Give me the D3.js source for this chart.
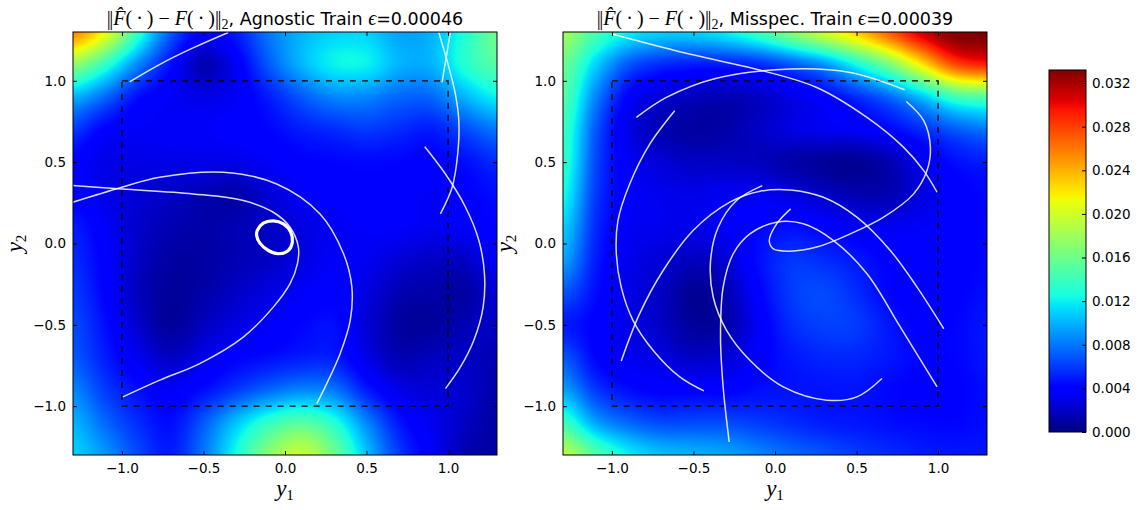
<!DOCTYPE html>
<html>
<head>
<meta charset="utf-8">
<script src="https://cdn.jsdelivr.net/npm/d3@7"></script>
<style>
  html, body { margin: 0; padding: 0; background: #fff; }
  svg { display: block; }
</style>
</head>
<body>
<svg id="fig" width="1139" height="510"></svg>
<script>
// ---- data -------------------------------------------------------------
// grid node coordinates (same for y1 and y2)
const gridCoords = [-1.3, -1.1, -0.9, -0.7, -0.5, -0.3, -0.1, 0.1, 0.3, 0.5, 0.7, 0.9, 1.1, 1.3];

// error norm in units of 1e-3; rows run from y2 = 1.3 (top) to y2 = -1.3 (bottom)
const agnosticErr = [
  [25.5, 21, 13.5, 7, 4, 5, 8, 10, 11, 11, 9.5, 10, 13, 16],
  [17.5, 13.5, 8.5, 4.5, 1.5, 3.5, 7, 10, 12, 12, 10, 10, 13, 15],
  [10, 7.5, 4.5, 3.5, 3, 3.5, 5, 7, 8.5, 8.5, 7.5, 7.5, 10, 12],
  [6, 4, 3.5, 3.5, 3.5, 3.8, 4.2, 5, 5.5, 6, 5.5, 5, 6.5, 8],
  [4, 3, 3, 3, 3, 3, 3.5, 4, 4.2, 4.3, 4.2, 4, 4.5, 5.5],
  [4, 3, 2.5, 2, 1.5, 1.2, 2.5, 3.5, 3.8, 4, 3.8, 3.5, 4, 4.5],
  [5, 3.5, 2.2, 1.5, 1.2, 1.5, 2, 2.8, 3.3, 3.6, 3.6, 3.3, 3.6, 4.2],
  [5.5, 3.8, 2, 1, 1, 1.5, 2, 2.8, 3.5, 3.3, 2.5, 2, 2, 3.5],
  [6, 4, 1.8, 0.8, 1.2, 2, 2.8, 3.5, 3.8, 2.8, 1.5, 1.2, 1, 2.5],
  [6.5, 4.5, 2.2, 0.8, 1.8, 2.8, 3.5, 4.2, 4.5, 2.5, 1, 0.8, 1.5, 2],
  [7, 5, 3.2, 2, 3, 4, 4.5, 5, 5, 3, 1.5, 1.8, 2, 1.5],
  [8.5, 6, 4.5, 3.5, 4.5, 6, 7.5, 8.5, 8, 5, 3, 2.5, 2.2, 1.2],
  [10, 7.5, 5.5, 4.5, 7, 10.5, 13.5, 15, 13, 8.5, 4.8, 3.2, 2, 1],
  [11, 9, 6.5, 5, 8, 12.5, 17, 19.5, 16, 10.5, 6, 3.5, 1.5, 1]
];

const misspecErr = [
  [18, 14.5, 12, 11, 11, 12, 14, 17, 20, 23, 27, 31, 33.5, 33.5],
  [16, 11, 7, 5.5, 5, 5, 5.5, 7, 9, 12.5, 16.5, 22, 27.5, 29],
  [15, 8.5, 4, 2.5, 1.8, 1.5, 2, 3, 4, 5.5, 7.5, 10.5, 14, 15],
  [14, 7, 3, 1.5, 1, 1.2, 2, 2.8, 3.2, 3.5, 4.2, 5.5, 7, 8],
  [13.5, 6.5, 3.5, 2.5, 2, 2, 1.8, 1.2, 0.8, 0.6, 1.5, 3.2, 4.5, 5],
  [12.5, 6, 3.8, 3.2, 3, 3.3, 3.3, 2.8, 2, 1.5, 1.5, 2.8, 3.8, 4.3],
  [11, 5.5, 3.5, 3.2, 3, 3.5, 4.2, 4.5, 4, 3.5, 3.3, 3.5, 3.8, 4.3],
  [9.5, 5, 3.2, 2.5, 1.8, 2.5, 4.5, 5.8, 5.5, 4.8, 4, 3.8, 3.8, 4.3],
  [7, 4.5, 3, 2, 0.6, 1.5, 4, 6, 6.5, 5.5, 4.2, 3.8, 4, 4.5],
  [5, 4, 3, 2, 0.8, 1.2, 3.5, 5.5, 6.2, 6, 4.8, 4, 4.2, 4.8],
  [7, 4.2, 3.3, 2.8, 2, 2.5, 3.8, 4.8, 5.3, 5.3, 4.8, 4.2, 4.2, 4.8],
  [9.5, 6, 4.5, 4, 4, 4, 4.5, 4.7, 4.7, 4.7, 4.3, 4, 4, 4.5],
  [14, 9.5, 7.5, 6.5, 6.5, 6.5, 6, 5.5, 5, 4.8, 4.5, 4.3, 4.2, 4.5],
  [19, 15, 12, 10.5, 10, 9.5, 8.5, 7.5, 6.8, 6, 5.5, 5, 4.8, 4.8]
];

// trajectories, each a list of [y1, y2] points
const agnosticTraj = [
  [[-0.953, 0.994], [-0.77, 1.10], [-0.564, 1.202], [-0.348, 1.297]],
  [[0.943, 1.297], [0.994, 1.123], [1.045, 0.918], [1.066, 0.755], [1.059, 0.55], [1.025, 0.346], [0.953, 0.182]],
  [[1.014, 1.297], [0.963, 0.99]],
  [[0.857, 0.595], [0.984, 0.427], [1.107, 0.223], [1.189, 0.018], [1.223, -0.186], [1.215, -0.391], [1.158, -0.595], [1.076, -0.759], [0.984, -0.892]],
  [[-1.301, 0.254], [-1, 0.346], [-0.768, 0.407], [-0.379, 0.438], [-0.051, 0.366], [0.215, 0.182], [0.359, -0.063], [0.41, -0.268], [0.4, -0.472], [0.338, -0.677], [0.256, -0.861], [0.195, -0.984]],
  [[-1.301, 0.356], [-1, 0.335], [-0.564, 0.305], [-0.256, 0.264], [-0.072, 0.192], [0.031, 0.1], [0.082, -0.022], [0.076, -0.125], [0.031, -0.247], [-0.072, -0.391], [-0.256, -0.575], [-0.523, -0.738], [-0.768, -0.84], [-0.994, -0.943]]
];
// closed limit cycle near the origin
const agnosticLoop = [[-0.170, 0.080], [-0.133, 0.125], [-0.072, 0.139], [-0.010, 0.121], [0.035, 0.070], [0.045, 0.008], [0.020, -0.043], [-0.041, -0.063], [-0.102, -0.043], [-0.154, 0.002], [-0.174, 0.049]];

const misspecTraj = [
  [[-0.994, 1.286], [-0.564, 1.174], [-0.072, 1.061], [0.256, 0.959], [0.564, 0.775], [0.789, 0.591], [0.912, 0.448], [0.994, 0.315]],
  [[-0.85, 0.775], [-0.666, 0.898], [-0.359, 1.016], [0.092, 1.072], [0.461, 1.051], [0.795, 0.945]],
  [[0.805, 0.873], [0.912, 0.755], [0.953, 0.591], [0.932, 0.448], [0.850, 0.305], [0.666, 0.162], [0.461, 0.059], [0.256, -0.022], [0.092, -0.047], [-0.010, -0.033], [-0.035, 0.018], [0.010, 0.121], [0.096, 0.213]],
  [[-0.615, 0.816], [-0.768, 0.611], [-0.891, 0.366], [-0.963, 0.141], [-0.973, -0.063], [-0.943, -0.268], [-0.871, -0.472], [-0.748, -0.656], [-0.584, -0.820], [-0.436, -0.906]],
  [[-0.943, -0.722], [-0.830, -0.431], [-0.686, -0.166], [-0.502, 0.080], [-0.277, 0.254], [-0.092, 0.321], [0.092, 0.329], [0.297, 0.284], [0.502, 0.162], [0.707, -0.043], [0.871, -0.268], [1.035, -0.524]],
  [[-0.078, 0.356], [-0.236, 0.264], [-0.348, 0.100], [-0.395, -0.104], [-0.379, -0.329], [-0.297, -0.534], [-0.154, -0.718], [0.051, -0.881], [0.318, -0.963], [0.502, -0.943], [0.656, -0.830]],
  [[-0.281, -1.219], [-0.318, -0.881], [-0.334, -0.575], [-0.318, -0.268], [-0.256, -0.063], [-0.154, 0.059], [0.010, 0.131], [0.174, 0.121], [0.359, 0.018], [0.564, -0.186], [0.768, -0.513], [0.994, -0.881]]
];

const axisTicks = [-1.0, -0.5, 0.0, 0.5, 1.0];
const axisDomain = [-1.3, 1.3];
const trainBox = [-1, 1];
const colorbarTicks = [0, 4, 8, 12, 16, 20, 24, 28, 32];   // x 1e-3
const errRange = [0, 33.2];                                   // x 1e-3
const panelTitles = [
  { label: "Agnostic Train", eps: "0.00046" },
  { label: "Misspec. Train", eps: "0.00039" }
];

// ---- jet colormap -----------------------------------------------------
const jetR = d3.scaleLinear().domain([0, 0.35, 0.66, 0.89, 1]).range([0, 0, 1, 1, 0.5]).clamp(true);
const jetG = d3.scaleLinear().domain([0, 0.125, 0.375, 0.64, 0.91, 1]).range([0, 0, 1, 1, 0, 0]).clamp(true);
const jetB = d3.scaleLinear().domain([0, 0.11, 0.34, 0.65, 1]).range([0.5, 1, 1, 0, 0]).clamp(true);
const jet = t => [jetR(t) * 255, jetG(t) * 255, jetB(t) * 255];
const color = d3.scaleSequential(t => d3.rgb(...jet(t)).toString()).domain(errRange);
const norm = d3.scaleLinear().domain(errRange).range([0, 1]).clamp(true);

// ---- layout -----------------------------------------------------------
const svg = d3.select("#fig");
const panels = [
  { x0: 73, x1: 497, grid: agnosticErr, traj: agnosticTraj, loop: agnosticLoop, title: panelTitles[0] },
  { x0: 563, x1: 987, grid: misspecErr, traj: misspecTraj, loop: null, title: panelTitles[1] }
];
const yTop = 32, yBot = 455;
const sans = "DejaVu Sans";
const serif = "Liberation Serif";

// Catmull-Rom sampling of a grid
function cubic(p0, p1, p2, p3, t) {
  return p1 + 0.5 * t * (p2 - p0 + t * (2 * p0 - 5 * p1 + 4 * p2 - p3 + t * (3 * (p1 - p2) + p3 - p0)));
}
function sampleGrid(g, fx, fy) {
  const n = g.length, m = g[0].length;
  const cl = (v, hi) => Math.max(0, Math.min(hi, v));
  const ix = Math.floor(fx), iy = Math.floor(fy);
  const tx = fx - ix, ty = fy - iy;
  const rows = [];
  for (let k = -1; k <= 2; k++) {
    const r = g[cl(iy + k, n - 1)];
    rows.push(cubic(r[cl(ix - 1, m - 1)], r[cl(ix, m - 1)], r[cl(ix + 1, m - 1)], r[cl(ix + 2, m - 1)], tx));
  }
  return cubic(rows[0], rows[1], rows[2], rows[3], ty);
}

const defs = svg.append("defs");

panels.forEach((p, pi) => {
  const x = d3.scaleLinear().domain(axisDomain).range([p.x0, p.x1]);
  const y = d3.scaleLinear().domain(axisDomain).range([yBot, yTop]);
  const gx = d3.scaleLinear().domain([gridCoords[0], gridCoords[gridCoords.length - 1]]).range([0, gridCoords.length - 1]);
  const gy = d3.scaleLinear().domain([gridCoords[gridCoords.length - 1], gridCoords[0]]).range([0, gridCoords.length - 1]);

  // heat map raster
  const W = Math.round(p.x1 - p.x0), H = Math.round(yBot - yTop);
  const cv = document.createElement("canvas");
  cv.width = W; cv.height = H;
  const ctx = cv.getContext("2d");
  const img = ctx.createImageData(W, H);
  for (let j = 0; j < H; j++) {
    const fy = gy(y.invert(yTop + j + 0.5));
    for (let i = 0; i < W; i++) {
      const fx = gx(x.invert(p.x0 + i + 0.5));
      const v = sampleGrid(p.grid, fx, fy);
      const c = jet(norm(v));
      const o = (j * W + i) * 4;
      img.data[o] = c[0]; img.data[o + 1] = c[1]; img.data[o + 2] = c[2]; img.data[o + 3] = 255;
    }
  }
  ctx.putImageData(img, 0, 0);
  svg.append("image")
    .attr("x", p.x0).attr("y", yTop).attr("width", W).attr("height", H)
    .attr("preserveAspectRatio", "none")
    .attr("href", cv.toDataURL());

  // clip for trajectories
  const clipId = "clip" + pi;
  defs.append("clipPath").attr("id", clipId)
    .append("rect").attr("x", p.x0).attr("y", yTop).attr("width", W).attr("height", H);

  const g = svg.append("g").attr("clip-path", `url(#${clipId})`);

  // training region
  g.append("rect")
    .attr("x", x(trainBox[0])).attr("y", y(trainBox[1]))
    .attr("width", x(trainBox[1]) - x(trainBox[0]))
    .attr("height", y(trainBox[0]) - y(trainBox[1]))
    .attr("fill", "none").attr("stroke", "#000").attr("stroke-width", 1.3)
    .attr("stroke-dasharray", "6,6");

  const line = d3.line().x(d => x(d[0])).y(d => y(d[1])).curve(d3.curveCatmullRom.alpha(0.5));
  g.selectAll("path.traj").data(p.traj).join("path")
    .attr("class", "traj")
    .attr("d", line)
    .attr("fill", "none").attr("stroke", "#fff").attr("stroke-opacity", 0.85)
    .attr("stroke-width", 1.5);
  if (p.loop) {
    const loopLine = d3.line().x(d => x(d[0])).y(d => y(d[1])).curve(d3.curveCatmullRomClosed.alpha(0.5));
    g.append("path").attr("d", loopLine(p.loop))
      .attr("fill", "none").attr("stroke", "#fff").attr("stroke-width", 3.2);
  }

  // axes with inward ticks on all four sides
  const fmt = d3.format(".1f");
  const styleAxis = sel => {
    sel.select(".domain").remove();
    sel.selectAll("text").attr("font-family", sans).attr("font-size", "13.5px").attr("fill", "#000");
    sel.selectAll("line").attr("stroke", "#000");
  };
  svg.append("g").attr("transform", `translate(0,${yBot})`)
    .call(d3.axisBottom(x).tickValues(axisTicks).tickFormat(fmt).tickSizeInner(-4).tickSizeOuter(0).tickPadding(8))
    .call(styleAxis);
  svg.append("g").attr("transform", `translate(0,${yTop})`)
    .call(d3.axisTop(x).tickValues(axisTicks).tickFormat("").tickSizeInner(-4).tickSizeOuter(0))
    .call(styleAxis);
  svg.append("g").attr("transform", `translate(${p.x0},0)`)
    .call(d3.axisLeft(y).tickValues(axisTicks).tickFormat(fmt).tickSizeInner(-4).tickSizeOuter(0).tickPadding(7))
    .call(styleAxis);
  svg.append("g").attr("transform", `translate(${p.x1},0)`)
    .call(d3.axisRight(y).tickValues(axisTicks).tickFormat("").tickSizeInner(-4).tickSizeOuter(0))
    .call(styleAxis);

  svg.append("rect")
    .attr("x", p.x0).attr("y", yTop).attr("width", W).attr("height", H)
    .attr("fill", "none").attr("stroke", "#000").attr("stroke-width", 1);

  // title
  const cx = (p.x0 + p.x1) / 2;
  const t = svg.append("text").attr("x", cx).attr("y", 25)
    .attr("text-anchor", "middle").attr("font-size", "17.5px").attr("fill", "#000");
  const mathSize = "20px";
  const bars = () => {
    t.append("tspan").attr("font-family", serif).attr("font-size", mathSize).text("|");
    t.append("tspan").attr("font-family", serif).attr("font-size", mathSize).attr("dx", -1.5).text("|");
  };
  bars();
  t.append("tspan").attr("font-family", serif).attr("font-size", mathSize).attr("font-style", "italic").text("F\u0302");
  t.append("tspan").attr("font-family", serif).attr("font-size", mathSize).text("(\u2009\u00b7\u2009)\u2005\u2212\u2005");
  t.append("tspan").attr("font-family", serif).attr("font-size", mathSize).attr("font-style", "italic").text("F");
  t.append("tspan").attr("font-family", serif).attr("font-size", mathSize).text("(\u2009\u00b7\u2009)");
  bars();
  t.append("tspan").attr("font-family", serif).attr("font-size", "14px").attr("dy", 4).text("2");
  t.append("tspan").attr("font-family", sans).attr("dy", -4).text(", " + p.title.label + " ");
  t.append("tspan").attr("font-family", serif).attr("font-size", mathSize).attr("font-style", "italic").text("\u03f5");
  t.append("tspan").attr("font-family", sans).text("=" + p.title.eps);

  // axis labels
  const xl = svg.append("text").attr("x", cx).attr("y", 496)
    .attr("text-anchor", "middle").attr("font-family", serif).attr("fill", "#000");
  xl.append("tspan").attr("font-style", "italic").attr("font-size", "23px").text("y");
  xl.append("tspan").attr("font-size", "15px").attr("dy", 4).text("1");

  const ly = pi === 0 ? 22 : 512;
  const yl = svg.append("text").attr("transform", `translate(${ly},${(yTop + yBot) / 2}) rotate(-90)`)
    .attr("text-anchor", "middle").attr("font-family", serif).attr("fill", "#000");
  yl.append("tspan").attr("font-style", "italic").attr("font-size", "23px").text("y");
  yl.append("tspan").attr("font-size", "15px").attr("dy", 4).text("2");
});

// ---- colorbar ---------------------------------------------------------
const cbX0 = 1049, cbX1 = 1086, cbTop = 70, cbBot = 432;
const cbScale = d3.scaleLinear().domain(errRange).range([cbBot, cbTop]);
const grad = defs.append("linearGradient").attr("id", "cbGrad")
  .attr("x1", 0).attr("y1", 1).attr("x2", 0).attr("y2", 0);
d3.range(0, 1.0001, 1 / 128).forEach(s => {
  grad.append("stop").attr("offset", s).attr("stop-color", color(errRange[0] + s * (errRange[1] - errRange[0])));
});
svg.append("rect").attr("x", cbX0).attr("y", cbTop).attr("width", cbX1 - cbX0).attr("height", cbBot - cbTop)
  .attr("fill", "url(#cbGrad)");
svg.append("g").attr("transform", `translate(${cbX1},0)`)
  .call(d3.axisRight(cbScale).tickValues(colorbarTicks).tickFormat(v => d3.format(".3f")(v / 1000))
    .tickSizeInner(-4).tickSizeOuter(0).tickPadding(6))
  .call(sel => {
    sel.select(".domain").remove();
    sel.selectAll("text").attr("font-family", sans).attr("font-size", "13.5px").attr("fill", "#000");
    sel.selectAll("line").attr("stroke", "#000");
  });
svg.append("rect").attr("x", cbX0).attr("y", cbTop).attr("width", cbX1 - cbX0).attr("height", cbBot - cbTop)
  .attr("fill", "none").attr("stroke", "#000").attr("stroke-width", 1);
</script>
</body>
</html>
